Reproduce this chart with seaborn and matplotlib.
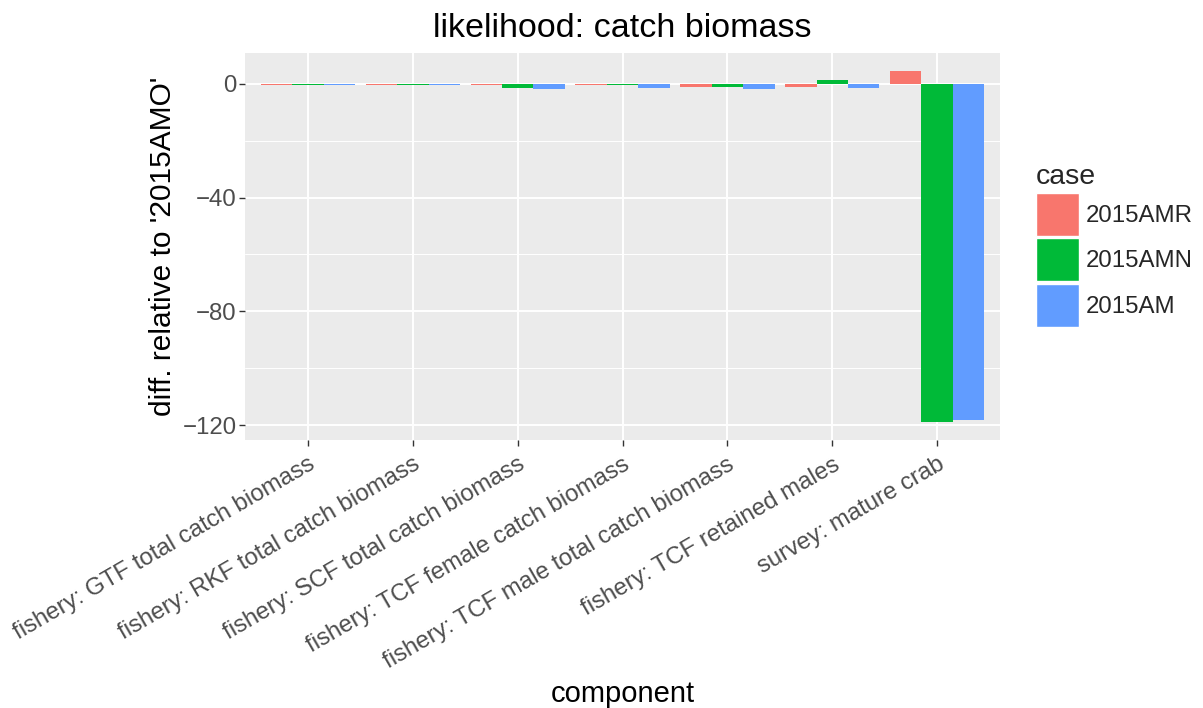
import matplotlib
matplotlib.use("Agg")
import matplotlib.pyplot as plt
import seaborn as sns
import pandas as pd
import numpy as np
from matplotlib.patches import Patch

components = [
    "fishery: GTF total catch biomass",
    "fishery: RKF total catch biomass",
    "fishery: SCF total catch biomass",
    "fishery: TCF female catch biomass",
    "fishery: TCF male total catch biomass",
    "fishery: TCF retained males",
    "survey: mature crab",
]
cases = ["2015AMR", "2015AMN", "2015AM"]
diff_AMR = [-0.3, -0.3, -0.3, -0.3, -1.0, -1.0, 4.6]
diff_AMN = [-0.5, -0.3, -1.6, -0.6, -1.0, 1.2, -118.9]
diff_AM = [-0.3, -0.3, -1.7, -1.4, -2.0, -1.6, -118.2]
colors = ["#F8766D", "#00BA38", "#619CFF"]

df = pd.DataFrame({
    "component": components * 3,
    "case": [c for c in cases for _ in components],
    "diff": diff_AMR + diff_AMN + diff_AM,
})

sns.set_theme(style="darkgrid")
plt.rcParams["font.family"] = ["Liberation Sans", "DejaVu Sans"]

fig = plt.figure(figsize=(12.03, 7.08), dpi=100)
ax = fig.add_axes([0.2037, 0.3792, 0.6276, 0.5459])
ax.set_facecolor("#EBEBEB")

sns.barplot(data=df, x="component", y="diff", hue="case", hue_order=cases,
            order=components, palette=colors, width=0.9, ax=ax,
            saturation=1, legend=False, errorbar=None)
for p in ax.patches:
    p.set_edgecolor("none")

ax.set_xlim(-0.6, 6.6)
ax.set_ylim(-125.1, 10.8)
ax.set_yticks([0, -40, -80, -120])
ax.set_yticks([-20, -60, -100], minor=True)
ax.grid(True, which="major", color="white", linewidth=1.4)
ax.grid(True, which="minor", axis="y", color="white", linewidth=0.7)
ax.set_axisbelow(True)
for s in ax.spines.values():
    s.set_visible(False)

ax.tick_params(axis="both", which="major", length=4, width=1, color="#333333",
               labelcolor="#4D4D4D", pad=3, bottom=True, left=True)
ax.tick_params(axis="y", labelsize=17.3, pad=2)
ax.tick_params(axis="x", labelsize=17.3, pad=6)
ax.tick_params(axis="both", which="minor", length=0)
ax.set_yticklabels(["0", "\u221240", "\u221280", "\u2212120"])
ax.set_xticks(range(len(components)))
ax.set_xticklabels(components, rotation=30, ha="right", va="top",
                   rotation_mode="anchor")

ax.set_xlabel("component", fontsize=21, color="black", labelpad=5)
ax.set_ylabel("diff. relative to '2015AMO'", fontsize=21.5, color="black")
ax.yaxis.set_label_coords(-0.090, 0.5)
ax.set_title("likelihood: catch biomass", fontsize=24.5, color="black", pad=11.5)

handles = [Patch(facecolor=c, edgecolor="white", linewidth=1.0) for c in colors]
leg = fig.legend(handles, cases, title="case", loc="upper left",
                 bbox_to_anchor=(0.861, 0.768), frameon=False,
                 fontsize=17.3, title_fontsize=20.5, handlelength=1.8,
                 handleheight=2.38, handletextpad=0.3, labelspacing=0.1,
                 borderaxespad=0, borderpad=0)
leg._legend_box.align = "left"

fig.savefig("out.png", dpi=100)
